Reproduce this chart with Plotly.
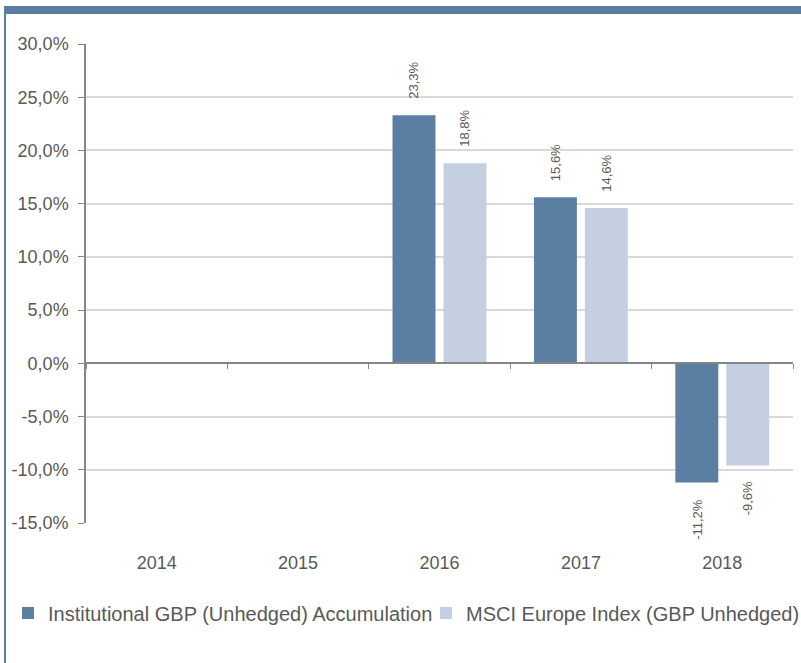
import plotly.graph_objects as go

years = ["2014", "2015", "2016", "2017", "2018"]
series_names = ["Institutional GBP (Unhedged) Accumulation", "MSCI Europe Index (GBP Unhedged)"]
fund_values = [None, None, 23.3, 15.6, -11.2]
index_values = [None, None, 18.8, 14.6, -9.6]
y_tick_vals = [-15, -10, -5, 0, 5, 10, 15, 20, 25, 30]
y_tick_text = ["-15,0%", "-10,0%", "-5,0%", "0,0%", "5,0%", "10,0%", "15,0%", "20,0%", "25,0%", "30,0%"]

DARK = "#5B7FA3"
LIGHT = "#C4D0E2"
GRAY_TXT = "#595959"
FONT = "Liberation Sans, Arial, sans-serif"


def fmt(v):
    return ("%.1f" % v).replace(".", ",") + "%"


n = len(years)
fig = go.Figure()
fig.add_trace(go.Bar(x=years, y=fund_values, name=series_names[0], legend="legend",
                     marker=dict(color=DARK, line=dict(width=0))))
fig.add_trace(go.Bar(x=years, y=index_values, name=series_names[1], legend="legend2",
                     marker=dict(color=LIGHT, line=dict(width=0))))
# helper trace for the zero-line axis (category boundaries)
fig.add_trace(go.Scatter(x=list(range(n)), y=[0] * n, xaxis="x2", mode="markers",
                         marker=dict(opacity=0), showlegend=False, hoverinfo="skip"))

annotations = []
for vals, shift in ((fund_values, -25.5), (index_values, 25.5)):
    for i, v in enumerate(vals):
        if v is None:
            continue
        annotations.append(dict(
            x=i, y=v, xref="x", yref="y", text=fmt(v), showarrow=False, textangle=-90,
            xshift=shift, yshift=14 if v >= 0 else -14,
            yanchor="bottom" if v >= 0 else "top",
            font=dict(family=FONT, size=13, color=GRAY_TXT),
        ))

plot_l, plot_r, plot_t, plot_b = 86, 793, 44, 523
W, H = 801, 663
pw, ph = plot_r - plot_l, plot_b - plot_t


def px_x(x):
    return (x - plot_l) / pw


def px_y(y):
    return (plot_b - y) / ph


shapes = [
    dict(type="rect", xref="paper", yref="paper", x0=px_x(5), x1=px_x(801), y0=px_y(14), y1=px_y(6),
         fillcolor=DARK, line=dict(width=0), layer="above"),
    dict(type="line", xref="paper", yref="paper", x0=px_x(5), x1=px_x(5), y0=px_y(6), y1=px_y(663),
         line=dict(color=DARK, width=2), layer="above"),
]

cat_range = [-0.5, n - 0.5]
boundaries = [i - 0.5 for i in range(n + 1)]

legend_common = dict(orientation="h", xref="container", yref="container", y=1 - 613 / H,
                     xanchor="left", yanchor="middle", font=dict(size=20, color=GRAY_TXT),
                     bgcolor="rgba(0,0,0,0)")

fig.update_layout(
    width=W, height=H,
    margin=dict(l=plot_l, r=W - plot_r, t=plot_t, b=H - plot_b, autoexpand=False),
    paper_bgcolor="white", plot_bgcolor="white",
    barmode="group", bargap=0.279, bargroupgap=0.157,
    font=dict(family=FONT, size=16, color=GRAY_TXT),
    xaxis=dict(type="category", range=cat_range, showline=False, showgrid=False, zeroline=False,
               ticks="outside", ticklen=23, tickcolor="rgba(0,0,0,0)", automargin=False,
               tickfont=dict(size=18, color=GRAY_TXT)),
    xaxis2=dict(overlaying="x", anchor="free", position=1 / 3, type="linear", range=cat_range,
                tickmode="array", tickvals=boundaries,
                showline=True, linecolor="#868686", linewidth=1.5, ticks="outside",
                ticklen=5, tickcolor="#868686", showticklabels=False, showgrid=False, zeroline=False,
                automargin=False),
    yaxis=dict(range=[-15, 30], tickvals=y_tick_vals, ticktext=y_tick_text, automargin=False,
               showline=True, linecolor="#868686", linewidth=1.5, ticks="outside", ticklen=6,
               ticklabelstandoff=6,
               tickcolor="#868686", showgrid=True, gridcolor="#D9D9D9", gridwidth=1.5,
               zeroline=False, tickfont=dict(size=18, color=GRAY_TXT)),
    legend=dict(x=8 / W, **legend_common),
    legend2=dict(x=426 / W, **legend_common),
    annotations=annotations,
    shapes=shapes,
)

fig.write_html("out.html", post_script="document.body.style.margin='0px';",
               config={"displayModeBar": False})
